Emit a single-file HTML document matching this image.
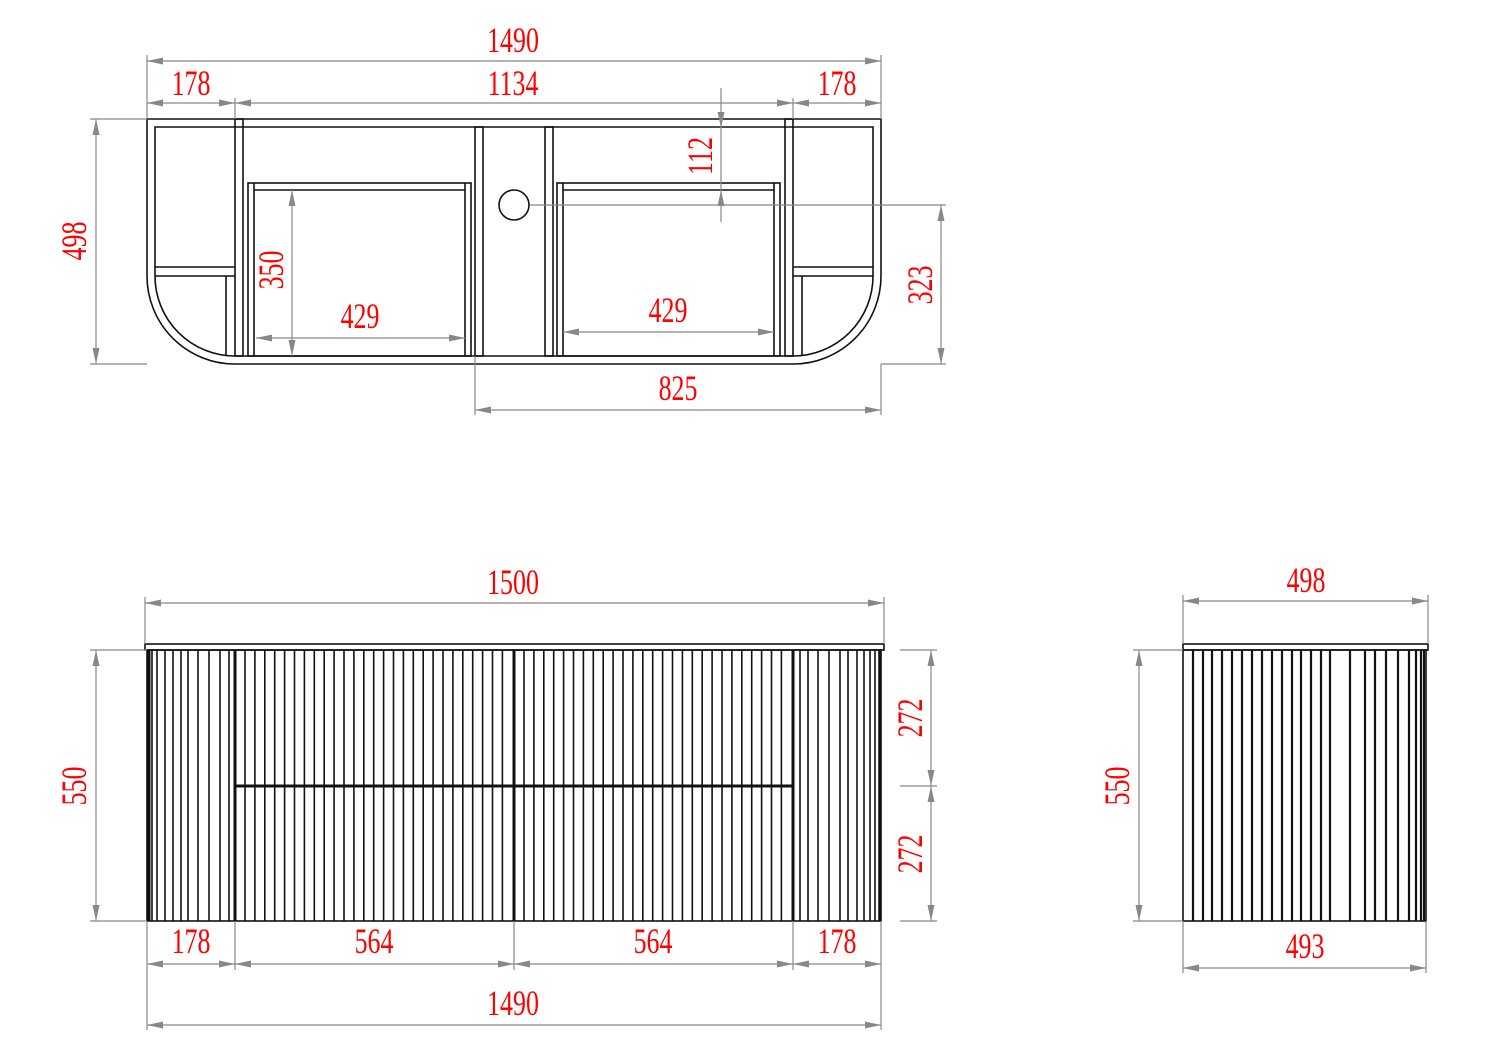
<!DOCTYPE html>
<html><head><meta charset="utf-8">
<style>
html,body{margin:0;padding:0;background:#fff;}
svg{display:block;}
text{font-family:"Liberation Serif",serif;fill:#f00;font-size:36px;}
</style></head>
<body>
<svg id="s" width="1500" height="1059" viewBox="0 0 1500 1059" xmlns="http://www.w3.org/2000/svg">
<g fill="none" stroke="#111" stroke-width="1.6">
<path d="M147,119 H881 V276 A88,88 0 0 1 793,364 H235 A88,88 0 0 1 147,276 Z"/>
<path d="M155,127 H873 V276 A80,80 0 0 1 793,356 H235 A80,80 0 0 1 155,276 Z"/>
<rect x="235" y="119" width="8" height="237"/>
<rect x="785" y="119" width="8" height="237"/>
<line x1="155" y1="267" x2="235" y2="267"/><line x1="155" y1="276" x2="235" y2="276"/>
<line x1="793" y1="267" x2="873" y2="267"/><line x1="793" y1="276" x2="873" y2="276"/>
<line x1="226" y1="276" x2="226" y2="356"/><line x1="802" y1="276" x2="802" y2="356"/>
<rect x="475" y="127" width="8" height="229"/>
<rect x="545" y="127" width="8" height="229"/>
<rect x="248" y="183" width="223" height="173"/>
<line x1="254" y1="190" x2="465" y2="190"/><line x1="254" y1="183" x2="254" y2="356"/><line x1="465" y1="183" x2="465" y2="356"/>
<rect x="557" y="183" width="223" height="173"/>
<line x1="563" y1="190" x2="774" y2="190"/><line x1="563" y1="183" x2="563" y2="356"/><line x1="774" y1="183" x2="774" y2="356"/>
<circle cx="514" cy="205" r="15"/>
<rect x="145" y="644" width="739" height="6"/>
<rect x="147" y="650" width="734" height="271"/>
<rect x="1183" y="644" width="245" height="6"/>
<rect x="1183" y="650" width="243" height="271"/>
</g>
<g id="slats" stroke="#111" stroke-width="1.6"></g>
<g id="dims" stroke="#888" stroke-width="1.2" fill="#888"></g>
<g id="txt"></g>
</svg>
<script>
var NS="http://www.w3.org/2000/svg";
function el(p,t,a){var e=document.createElementNS(NS,t);for(var k in a)e.setAttribute(k,a[k]);document.getElementById(p).appendChild(e);return e;}
function L(p,x1,y1,x2,y2,w){var a={x1:x1,y1:y1,x2:x2,y2:y2};if(w)a["stroke-width"]=w;el(p,"line",a);}
[148,152,157,165,173,181,188,198,209,220,229].forEach(function(x){L("slats",x,650,x,921);});
L("slats",149,650,149,921,3);
[800,808,818,829,840,848,857,864,870,875,879].forEach(function(x){L("slats",x,650,x,921);});
L("slats",880,650,880,921,3);
for(var x=245;x<512;x+=9.9)L("slats",x,650,x,921);
for(var x=524;x<791;x+=9.9)L("slats",x,650,x,921);
[235,514,793].forEach(function(x){L("slats",x,650,x,921,3);});
L("slats",235,786,793,786,3);
var sx=[1193,1203,1212,1222,1232,1242,1252,1262,1272,1282,1292,1301,1311,1321,1330,1350,1365,1375,1386,1398,1409,1416,1421,1424];
sx.forEach(function(x){L("slats",x,650,x,921,2.2);});
function arrow(x,y,dx,dy){var l=16,w=3.5;var bx=x-dx*l,by=y-dy*l;el("dims","polygon",{points:x+","+y+" "+(bx-dy*w)+","+(by+dx*w)+" "+(bx+dy*w)+","+(by-dx*w),stroke:"none"});}
function H(y,x1,x2,a1,a2){L("dims",x1,y,x2,y);if(a1!==false)arrow(x1,y,-1,0);if(a2!==false)arrow(x2,y,1,0);}
function V(x,y1,y2,a1,a2){L("dims",x,y1,x,y2);if(a1!==false)arrow(x,y1,0,-1);if(a2!==false)arrow(x,y2,0,1);}
function T(s,x,y,rot){var t=el("txt","text",{"text-anchor":"middle",transform:rot?"translate("+x+","+y+") rotate(-90) scale(0.72,1)":"translate("+x+","+y+") scale(0.72,1)"});t.textContent=s;}
V(147,55,119,false,false);V(881,55,119,false,false);
H(61,147,881);T("1490",513,52);
H(103,147,235);H(103,235,793);H(103,793,881);
V(235,98,119,false,false);V(793,98,119,false,false);
T("178",191,95);T("1134",513,95);T("178",837,95);
L("dims",90,119,147,119);L("dims",90,364,147,364);V(96,119,364);T("498",86,241,1);
V(292,190,356);T("350",283,270,1);
H(338,256,465);T("429",360,328);
H(332,563,774);T("429",668,322);
L("dims",721,88,721,222);arrow(721,128,0,1);arrow(721,190,0,-1);T("112",712,156,1);
L("dims",530,205,946,205);L("dims",881,364,946,364);V(941,205,364);T("323",932,285,1);
V(475,356,415,false,false);V(881,364,415,false,false);H(410,475,881);T("825",678,400);
V(145,597,644,false,false);V(884,597,644,false,false);H(603,145,884);T("1500",513,594);
L("dims",90,650,147,650);L("dims",90,921,147,921);V(96,650,921);T("550",86,786,1);
L("dims",900,650,937,650);L("dims",900,786,937,786);L("dims",900,921,937,921);
V(931,650,786);V(931,786,921);T("272",922,718,1);T("272",922,854,1);
[235,514,793].forEach(function(x){V(x,921,970,false,false);});
[147,881].forEach(function(x){V(x,921,1030,false,false);});
H(964,147,235);H(964,235,514);H(964,514,793);H(964,793,881);
T("178",191,953);T("564",374,953);T("564",653,953);T("178",837,953);
H(1025,147,881);T("1490",513,1015);
V(1183,595,644,false,false);V(1428,595,644,false,false);H(601,1183,1428);T("498",1306,592);
L("dims",1133,650,1183,650);L("dims",1133,921,1183,921);V(1139,650,921);T("550",1129,786,1);
V(1183,921,973,false,false);V(1426,921,973,false,false);H(968,1183,1426);T("493",1305,958);
</script>
</body></html>
